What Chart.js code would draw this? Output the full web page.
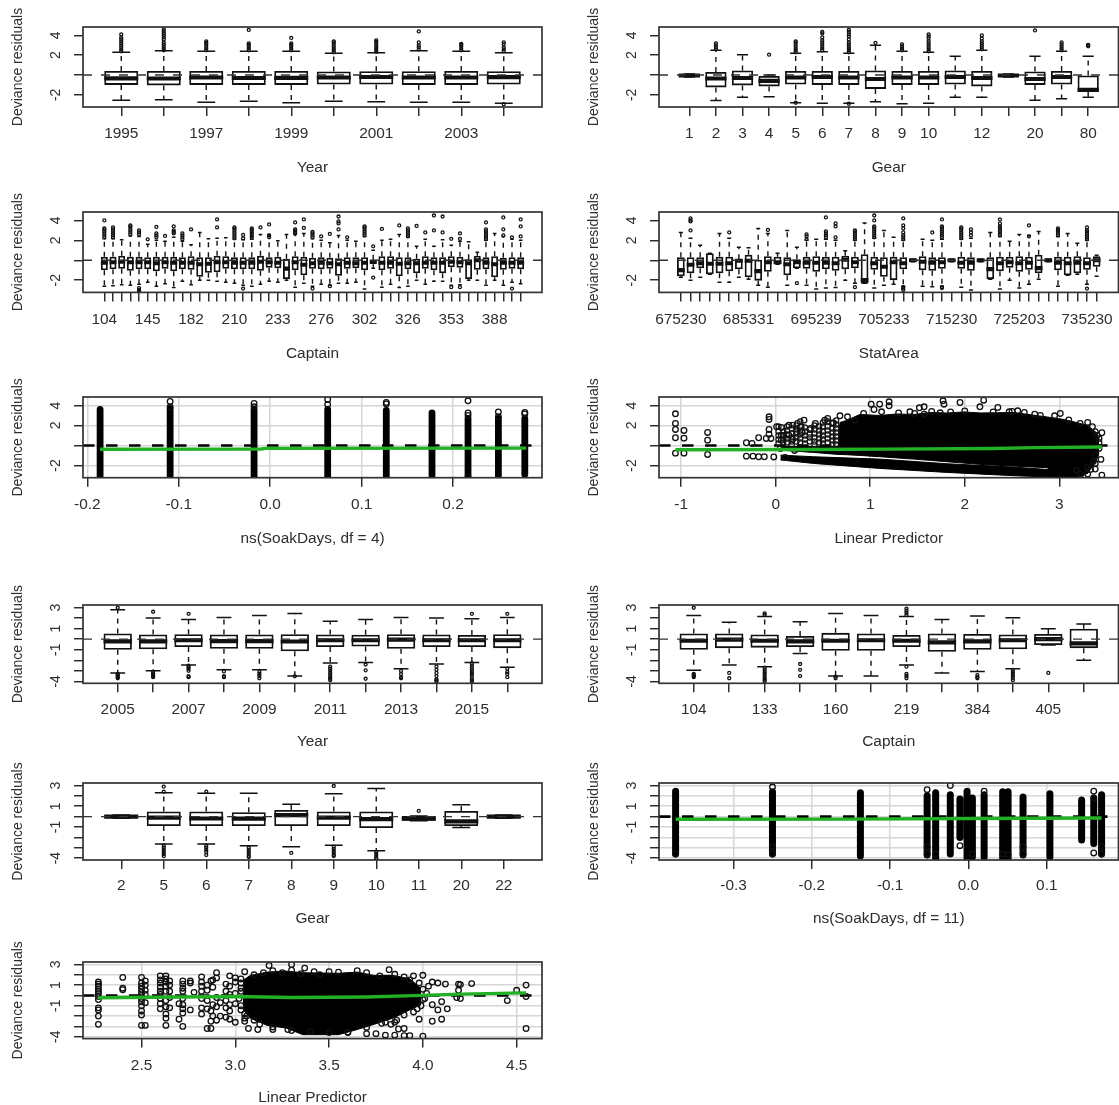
<!DOCTYPE html>
<html>
<head>
<meta charset="utf-8">
<style>
  html, body { margin: 0; padding: 0; background: #fff; }
  body { position: relative; width: 1119px; height: 1105px; overflow: hidden; }
  canvas { position: absolute; filter: blur(.35px); }
</style>
<script src="https://cdn.jsdelivr.net/npm/chart.js@4/dist/chart.umd.min.js"></script>
</head>
<body>
<script>
// Tick labels
const yearLabelsA = ['1995','','1997','','1999','','2001','','2003',''];
const gearLabelsA = ['1','2','3','4','5','6','7','8','9','10','','12','','20','','80'];
const captainLabelsA = ['104','','','','','145','','','','','182','','','','','210','','','','','233','','','','','276','','','','','302','','','','','326','','','','','353','','','','','388','','',''];
const statLabels = ['675230','','','','','','','685331','','','','','','','695239','','','','','','','705233','','','','','','','715230','','','','','','','725203','','','','','','','735230','',''];
const yearLabelsB = ['2005','','2007','','2009','','2011','','2013','','2015',''];
const captainLabelsB = ['104','','133','','160','','219','','384','','405',''];
const gearLabelsB = ['2','5','6','7','8','9','10','11','20','22'];

const yTicksA = [-2, 0, 2, 4];
const yTickLabelsA = ['-2', '', '2', '4'];
const yTicksB = [-4, -3, -2, -1, 0, 1, 2, 3];
const yTickLabelsB = ['-4', '', '', '-1', '', '1', '', '3'];

// Year 1995-2004
const yearAQ1 = [-1, -1.05, -1, -1, -1, -.95, -.95, -1, -1, -.95];
const yearAMed = [-.33, -.35, -.25, -.3, -.28, -.25, -.2, -.25, -.25, -.22];
const yearAQ3 = [.4, .4, .4, .4, .4, .35, .38, .38, .4, .38];
const yearALo = [-2.55, -2.5, -2.75, -2.65, -2.8, -2.65, -2.7, -2.75, -2.75, -2.85];
const yearAHi = [2.3, 2.45, 2.4, 2.4, 2.4, 2.2, 2.25, 2.45, 2.4, 2.25];
const yearAOut = [
  [2.4,2.6,2.8,3,3.2,3.4,3.6,3.8,4.1],
  [2.5,2.7,2.9,3.1,3.3,3.6,3.8,4,4.2,4.4,4.6],
  [2.5,2.7,2.9,3.1,3.25,3.4],
  [2.5,2.7,2.9,3.05,3.2,4.55],
  [2.5,2.7,2.9,3.05,3.2,3.75],
  [2.3,2.5,2.7,2.9,3.1,3.3,3.4],
  [2.35,2.55,2.75,2.95,3.15,3.35,3.5],
  [2.6,2.8,3,3.3,4.4],
  [2.5,2.7,2.9,3.05,3.15],
  [2.4,2.6,2.8,3.1,3.3,-2.95]
];

// Gear, first period
const gearAQ1 = [-.2, -1.25, -1.05, -1.15, -.95, -1, -1, -1.4, -1, -1, -.95, -1.15, -.2, -1, -.95, -1.7];
const gearAMed = [-.05, -.35, -.3, -.6, -.25, -.2, -.25, -.4, -.25, -.25, -.2, -.3, -.05, -.4, -.2, -1.5];
const gearAQ3 = [.1, .3, .45, -.1, .4, .4, .4, .45, .4, .4, .45, .4, .1, .35, .4, -.05];
const gearALo = [-.2, -2.57, -2.25, -2.2, -2.8, -2.85, -2.85, -2.7, -2.9, -2.85, -2.25, -2.25, -.2, -2.55, -2.4, -2.25];
const gearAHi = [.1, 2.5, 2.05, 0, 2.2, 2.35, 2.2, 3, 2.4, 2.3, 1.9, 2.5, .1, 1.9, 2.4, 1.9];
const gearAOut = [
  [], [2.6,2.8,3,3.2], [], [2.05],
  [2.3,2.5,2.7,2.9,3.1,3.3,3.4,-2.8],
  [2.5,2.7,2.9,3.1,3.3,3.5,3.8,4.2,4.35],
  [2.3,2.5,2.7,2.9,3.1,3.3,3.6,3.9,4.1,4.35,4.55,-2.9],
  [3.25],
  [2.5,2.7,2.9,3.1],
  [2.4,2.6,2.8,3,3.2,3.4,3.7,3.9,4.1],
  [],
  [2.6,2.8,3,3.2,3.4,3.7,4],
  [], [4.5],
  [2.5,2.7,2.9,3.1,3.3],
  [2.9,3,3.05]
];

// Captain, first period
const captainAQ1 = [-1,-.9,-.85,-1.05,-.9,-.9,-1.1,-.85,-1.1,-.9,-.95,-1.65,-1.25,-1.2,-.85,-.9,-.9,-.9,-1.05,-.75,-.8,-1.9,-1,-1.5,-.85,-.9,-.85,-1.55,-.85,-.8,-1,-.4,-1,-.85,-1.6,-.9,-1.3,-.85,-1,-1.3,-.7,-.75,-1.9,-.95,-.9,-1.7,-.95,-.85,-.9];
const captainAMed = [-.25,-.2,-.15,-.2,-.2,-.2,-.3,-.2,-.25,-.25,-.25,-.4,-.35,-.2,-.2,-.25,-.25,-.25,-.15,-.2,-.25,-.85,-.2,-.45,-.3,-.25,-.3,-.4,-.25,-.3,-.25,-.15,-.25,-.25,-.35,-.3,-.3,-.25,-.25,-.25,-.15,-.2,-.3,0,-.25,-.4,-.25,-.25,-.25];
const captainAQ3 = [.35,.35,.45,.35,.35,.3,.35,.35,.35,.3,.4,.3,.3,.45,.4,.3,.3,.3,.45,.3,.35,.15,.4,.35,.25,.3,.25,.2,.3,.3,.3,.05,.4,.4,.3,.3,.15,.4,.3,.3,.4,.35,.1,.45,.3,.4,.25,.3,.3];
const captainALo = [-2.6,-2.55,-2.45,-2.5,-2.4,-2.2,-2.6,-2.35,-2.75,-2.1,-2.45,-2,-2,-2.1,-2.2,-2.3,-2.5,-2.6,-2.4,-2.1,-2.2,-2,-2.7,-2.3,-2.6,-2.4,-2.5,-2.3,-2.3,-2.2,-2.9,-.8,-2.7,-2.4,-2.75,-2.6,-2,-2.4,-2.1,-2.1,-2.5,-2.45,-2,-2,-2.5,-2,-2.5,-2.2,-2.35];
const captainAHi = [2.15,2.15,2.05,2.45,2.4,1.6,2,1.9,2.3,1.9,1.55,2.8,2.15,2.2,2.25,2.1,2.05,2.1,2.6,2.6,1.95,2.6,2.6,2.7,2.15,2,1.75,2.5,2,1.9,2.4,1,2,2.1,2.6,2.3,1.4,2.1,1.4,2.05,1.5,1.9,1.85,.8,2,2.7,2.4,2.1,2];
const captainAOut = [
  [2.3,2.5,2.7,2.9,3.1,3.2,4],[2.3,2.5,2.7,2.9,3.1,3.3],[],[2.6,2.8,3,3.2,3.4,3.5],[2.6,2.8,3,-2.8,-3,-3.1,-3.2],
  [2.1],[2.3,2.5,2.7,3.35],[2.45],[2.7,2.85,3,3.4],[2.1,2.3,2.5,2.7],
  [3.1],[],[],[3.3,4.1],[],
  [2.2,2.4,2.6,2.8,3,3.2,3.3],[2.2,2.55,-2.85],[2.25,2.45,2.65,2.85,3.05,3.2],[3.3],[2.3,2.5,3.6],
  [],[],[2.7,2.85,3,3.1,3.8],[3.25,4.1],[2.3,2.5,2.7,2.85,-2.85],
  [2.4],[2.65,-2.6],[3.1,3.7,3.9,4.4],[2.3],[],
  [2.5,2.7,2.9,3.1,3.3,3.4],[1.4,-1.75],[3.15],[],[3.5],
  [2.4,2.6,2.8,3,3.2],[3.45],[2.8],[3,4.5],[2.8,4.4],
  [2.15,-2.7],[2.15,2.7,-2.7],[],[],[2.1,2.3,2.5,2.7,2.9,3.1,3.8],
  [],[2.5,3.1,4.3],[2.3,-2.85],[2.4,3.4,4.1]
];

// StatArea
const statQ1 = [-1.6,-1.3,-.8,-1.4,-1.3,-1.1,-.9,-1.7,-2.05,-1.15,-.4,-1.5,-.8,-.85,-1.15,-.9,-1.05,-.9,-.8,-2.35,-.95,-1.65,-2,-.9,-.15,-1,-1.05,-.85,-.15,-.85,-1.05,-.15,-1.9,-1.1,-.75,-1.15,-.95,-1.3,-.15,-1,-1.5,-1.3,-.95,-.65];
const statMed = [-1,-.45,-.3,-.35,-.35,-.3,-.05,-.05,-1.1,-.2,-.2,-.4,-.2,-.25,-.25,-.25,-.3,.05,-.2,-2,-.3,-.65,-.2,-.3,0,-.15,-.25,-.2,0,-.25,-.25,0,-.9,-.3,-.2,-.3,-.25,-.8,0,-.25,-.3,-.25,-.3,0];
const statQ3 = [.3,.3,.3,.7,.35,.35,.1,.55,.05,.4,.35,.3,.1,.35,.4,.35,.35,.45,.35,.6,.35,.3,.35,.3,.1,.4,.3,.3,.1,.35,.3,.1,.3,.35,.35,.4,.35,.55,.1,.35,.35,.4,.3,.4];
const statLo = [-1.7,-2,-1.7,-1.4,-2.2,-2.2,-1.7,-1.9,-2.5,-2.7,-.4,-2.5,-.8,-2.5,-2.9,-2.8,-2.75,-2,-2.3,-2.3,-2.8,-2.5,-2.4,-2.6,-.15,-2.6,-2.65,-2.6,-.15,-2.7,-3,-.15,-1.9,-2.9,-2,-2.8,-2.4,-1.9,-.15,-2.6,-1.5,-1.4,-2.4,-1.6];
const statHi = [2.8,2.2,1.5,.7,2.7,2.2,1.3,1.25,3.2,2.7,.7,3,1.3,2,2.1,2.1,2,.95,2,3.75,2.2,3,2.3,2,.1,2.1,2,2.1,.1,2.1,2.2,.1,2.8,2.4,1.9,2.6,2.5,2.9,.1,2.4,2.7,1.7,2,.5];
const statOut = [
  [],[3,3.9,4,4.2],[],[],[],[2.8],[],[],[],[3.05],
  [],[],[-2.3],[2.1,2.4,2.6],[],[2.3,2.5,2.7,2.9,4.3],[2.3,3.4,3.7],[],[2.1,2.3,2.5,2.7,2.9,3,-2.7],[],
  [2.3,2.5,2.7,2.9,3.1,3.3,3.4,4,4.5],[],[],[2.1,2.3,2.5,2.8,3.2,3.5,4.2,-2.7,-2.85,-3],[],[],[2.8],[2.3,2.5,2.7,2.9,3.1,3.3,3.4,4.1,-2.7,-2.8],[],[2.2,2.4,2.6,2.8,3,3.2,3.3],
  [2.5,2.8,3.1],[],[],[2.5,2.7,2.9,3.1,3.3,3.4,3.7,4.1],[],[],[2.4,3.5],[],[],[2.5,2.7,2.9,3.05,3.2],
  [],[],[2.1,2.3,2.5,2.7,2.9,3,3.3,-2.85],[]
];

// ns(SoakDays, df = 4)
const soak4X = [-.186, -.1094, -.0176, .0629, .127, .177, .2164, .2496, .2785];
const soak4Lo = [-3.07, -3.07, -3.2, -3.2, -3.2, -3, -3.07, -3, -2.9];
const soak4Hi = [3.6, 3.7, 3.6, 3.6, 3.5, 3.27, 2.7, 2.7, 2.7];
const soak4PtX = [-.1094,-.1094,-.0176,-.0176,.0629,.0629,.127,.127,.2164,.2164,.2164,.2164,.2496,.2496,.2785,.2785];
const soak4PtY = [4.4,3.85,4.2,3.87,4.6,4.1,4.3,4.15,4.47,3.25,3,-3.15,3.35,2.87,3.3,3.15];
const soak4GreenX = [-.186, -.01, -.005, .28];
const soak4GreenY = [-.38, -.36, -.29, -.27];

// Linear predictor, first period
const predAMassX = [.05,.4,.66,.68,.75,.89,1.1,1.28,1.46,1.64,1.81,1.99,2.17,2.52,2.87,3.05,3.16,3.3,3.39,3.42];
const predAMassTop = [-.1,-.1,-.1,2.3,2.5,3.1,3,3.15,3.1,3.3,3.25,3.35,3.25,3.3,2.85,2.6,2.35,2,1.3,.7];
const predAMassBottom = [-.47,-.7,-.9,-.9,-.93,-1,-1.13,-1.25,-1.37,-1.5,-1.63,-1.77,-1.9,-2.07,-2.23,-3.2,-3.25,-2.8,-1.5,-.8];
const predABandX = [.05, .4, 1.1, 1.81, 2.52, 3.16];
const predABandTop = [-.97, -1.13, -1.37, -1.83, -2.17, -2.6];
const predABandBottom = [-1.45, -1.8, -2.3, -2.7, -3.03, -3.25];
const predAPtX = [-1.06,-1.06,-1.06,-.97,-1.06,-.97,-1.06,-.97,-.72,-.72,-.72,-.31,-.25,-.18,-.31,-.24,-.18,-.12,-.07,-.07,-.07,-.07,-.1,-.05,.01,.06,.14,.18,.23,.3,.27,.06,.14,.22,.06,.18,.28,.37,.42,.52,.55,.61,.68,.76,.84,.93,1.01,1.04,1.1,1.12,1.2,1.2,1.42,1.52,1.57,1.57,1.74,1.77,1.78,1.95,2.16,2.2,2.35,2.47,2.56,2.63,2.74,2.95,3.01,3.3,3.35,3.38,3.45,3.42,3.44,3.38,3.38,3.3,3.23,3.3,3.45,3.18,.05,.2,-.02,.1,1.3,1.47,1.65,1.85,2,2.3,2.5,2.8,3.1,3.22,3.4,3.42,3.42,3.38,3.36,3.33];
const predAPtY = [3.17,2.2,1.6,1.5,.77,.73,-.77,-.77,1.3,.53,-.9,.27,.2,.77,-1.07,-1.07,-1.13,-1.13,2.87,2.6,1.6,1.13,.7,.7,1.87,1.8,2.03,2.03,2.2,2.53,1.87,1.03,1.03,1.37,.53,.6,1.3,1.7,2.2,2.53,2.7,2.27,2.97,2.87,2.53,3.2,4.13,3.6,4.13,3.37,4.37,3.97,3.37,3.77,3.87,3.13,3.27,4.47,4.13,4.3,3.87,4.53,3.8,3.37,3.47,3.3,3.13,2.97,3.2,2.3,1.87,1.37,1.27,.7,-1.4,-1.8,-2.37,-2.2,-2.87,-2.87,-2.97,-2.47,-.3,-.5,-1.15,-1.2,3.25,3.2,3.4,3.35,3.45,3.35,3.4,3,2.55,2.2,1,.3,-.3,-1,-1.6,-2.4];
const predAColX = [.03,.08,.12,.17,.22,.26,.31,.36,.41,.46,.5,.55,.6,.64];
const predAColY = [
  [1.9,1.4,1,.6,.2],
  [1.4,1,.7,.3],
  [1.9,1.5,1.1,.7,.3],
  [1.7,1.2,.8,.4,.1],
  [2,1.6,1.2,.8,.4],
  [2.4,1.9,1.5,1.1,.7,.3],
  [1.8,1.4,1,.6,.2],
  [1.6,1.1,.8,.4],
  [2,1.6,1.2,.8,.4,.1],
  [1.9,1.5,1.1,.7,.3],
  [2.3,1.9,1.4,1,.6,.2],
  [2.4,1.9,1.5,1.1,.7,.3],
  [2.2,1.7,1.3,.9,.5,.1],
  [2.5,2.1,1.7,1.3,.9,.5,.1]
];
const predAGreenX = [-1.06, .3, 1.15, 2.3, 2.75, 3.45];
const predAGreenY = [-.43, -.4, -.37, -.3, -.22, -.15];

// Year 2005-2016
const yearBQ1 = [-1, -.95, -.75, -.9, -.9, -1.15, -.75, -.7, -.9, -.75, -.75, -.85];
const yearBMed = [-.2, -.2, -.1, -.18, -.18, -.22, -.1, -.1, -.05, -.1, -.1, -.1];
const yearBQ3 = [.55, .45, .47, .45, .45, .48, .45, .43, .47, .45, .4, .47];
const yearBLo = [-3.2, -3, -2.45, -2.9, -2.9, -3.5, -2.25, -2.2, -2.8, -2.35, -2.2, -2.65];
const yearBHi = [2.8, 2, 1.87, 2.05, 2.25, 2.43, 1.7, 1.87, 2.05, 2, 1.93, 2.05];
const yearBOut = [
  [-3.3,-3.4,-3.5,-3.6,-3.7,2.98],
  [-3.1,-3.25,-3.4,-3.5,-3.6,2.6],
  [-2.5,-2.65,-2.8,-3,-3.5,-3.6,2.4],
  [-3.05,-3.5,-3.6],
  [-3.1,-3.3,-3.5,-3.7],
  [-3.52],
  [-2.6,-2.8,-3,-3.2,-3.4,-3.6,-3.75,-3.9],
  [-2.4,-2.95,-3.75],
  [-3,-3.3,-3.6,-3.7],
  [-2.6,-2.9,-3.2,-3.5,-3.8,-3.9,-4],
  [-2.3,-2.5,-2.7,-2.9,-3.1,-3.3,-3.5,-3.75,-3.9,-4,2.4],
  [-2.8,-3.1,-3.3,-3.6,2.4]
];

// Captain, second period
const captainBQ1 = [-1, -.85, -.8, -.75, -1.1, -1.1, -.75, -1.2, -1, -.95, -.55, -.85];
const captainBMed = [-.15, -.05, -.15, -.2, -.15, -.1, -.15, -.3, -.2, -.1, 0, -.4];
const captainBQ3 = [.55, .55, .45, .3, .6, .55, .4, .55, .5, .45, .5, 1];
const captainBLo = [-2.95, -2.45, -2.6, -1.35, -3.5, -3.5, -2.45, -3.2, -3.05, -2.8, -.55, -2];
const captainBHi = [2.25, 1.6, 2.15, 1.65, 2.43, 2.25, 2.15, 1.87, 2.2, 2.03, 1, 1.43];
const captainBOut = [
  [-3.3,-3.4,-3.5,-3.6,2.98],
  [-3.2,-3.7],
  [-2.7,-2.9,-3.1,-3.3,-3.5,-3.7,-3.85,-4,2.3,2.45],
  [-2.35,-2.9,-3.5],
  [-3.55,-3.7],
  [],
  [-2.6,-3.3,-3.5,-3.7,2.3,2.5,2.7,2.9],
  [],
  [-3.4,-3.6,-3.7],
  [-2.9,-3.1,-3.3,-3.5,-3.7,-3.9],
  [-3.2],
  []
];

// Gear, second period
const gearBQ1 = [-.15, -.9, -.9, -.9, -.9, -.9, -1.1, -.4, -.9, -.15];
const gearBMed = [0, -.1, -.18, -.2, .15, -.1, -.25, -.2, -.45, 0];
const gearBQ3 = [.15, .5, .5, .42, .65, .5, .5, .05, .55, .15];
const gearBLo = [-.15, -2.65, -2.65, -2.8, -2.9, -2.75, -3.3, -.4, -1.05, -.15];
const gearBHi = [.15, 2.3, 2.25, 2.25, 1.2, 2.2, 2.7, .05, 1.15, .15];
const gearBOut = [
  [],
  [-2.8,-3,-3.2,-3.4,-3.6,-3.8,2.4,2.9],
  [-2.8,-3,-3.2,-3.4,-3.7,2.4],
  [-3,-3.2,-3.4,-3.6,-3.8,-3.9],
  [-3.5],
  [-2.9,-3.1,-3.3,-3.5,-3.7,-3.8,2.95],
  [-3.4,-3.6,-3.8,-4,-4.1],
  [.55],
  [],
  []
];

// ns(SoakDays, df = 11)
const soak11X = [-.374,-.2503,-.138,-.0528,-.0419,-.0232,-.0109,-.0018,.005,.02,.0437,.0506,.0697,.104,.1445,.16,.17];
const soak11Lo = [-3.6,-3.6,-3.8,-3.7,-4,-3.6,-2,-4,-3.9,-3.9,-4,-4,-3.7,-3.9,-2.25,-2.6,-3.6];
const soak11Hi = [2.45,2.4,2.3,2,2.3,2.1,1.7,2.45,1.8,2.1,2.4,2.4,1.9,2.2,1.6,1.75,2.1];
const soak11PtX = [-.2503,-.0528,-.0528,-.0528,-.0419,-.0232,-.0109,.005,.02,.0437,.0506,.0697,.0697,.16,.16,.16,.17,.17,-.374,-.2503,-.2503];
const soak11PtY = [2.85,2.6,-2.9,-3.6,-3.6,3,-2.8,-3.6,2.45,-3.6,-3.7,-2.9,-3.6,2.45,-3.5,1.8,-2.9,-3.6,-3.6,-2.9,-3.6];
const soak11GreenX = [-.374, -.15, 0, .17];
const soak11GreenY = [-.25, -.24, -.18, -.13];

// Linear predictor, second period
const predBMassX = [3.04,3.08,3.17,3.27,3.36,3.46,3.55,3.65,3.74,3.84,3.93,3.99];
const predBMassTop = [1.46,1.94,2.26,2.36,2.2,2.17,2.15,2.26,1.94,1.94,1.62,.67];
const predBMassBottom = [-1.3,-2.2,-2.9,-3.15,-3.8,-3.8,-3.8,-3.3,-2.8,-2.2,-1.4,-.9];
const predBColX = [2.27,2.4,2.5,2.52,2.6,2.63,2.65,2.72,2.76,2.7,2.78,2.82,2.85,2.87,2.88,2.9,2.92,2.95,2.97,3,3.03,3.05];
const predBColY = [
  [1.3,1.1,.9,.6,.4,.2,-.1,-.4,-1.2,-1.4,-2,-2.8],
  [1.75,.7,.55],
  [1.75,1.2,.9,.6,.3,0,-.3,-.6,-1,-1.5,-1.9,-2.9],
  [1.4,1,.5,.1,-.7,-2.9],
  [1.9,1.5,1.2,.8,.4,.1,-.3,-.8,-1.3],
  [1.9,1.6,1.3,.9,.4,-.5,-1.1,-1.8,-2.2,-2.9],
  [1.4,1,.4,-.2,-1.2],
  [1.4,1.1,.7,.4,-.3,-.9,-1.3,-1.7,-3],
  [1.4,1.2,-1.4],
  [-2.3,-.8],
  [.3],
  [1.8,1.3,.9,.4,-.3,-1.2,-1.8],
  [-3.2,1,.5,-.5,-1.3],
  [1.4,-1.5,-2.5,-3.2],
  [1.5,.8,-.9,-2],
  [2.2,1.7,-.2,-1.1,-2.4],
  [-2,-.7],
  [1.1,.4,-.5,-1.2,-2.1],
  [1.9,.9,.1,-.9,-1.5,-2.3],
  [1.7,1.3,.2,-.8,-2.6],
  [1.6,.7,-1.4],
  [2.3,-2.2,-2.5]
];
const predBPtX = [3.18,3.3,3.37,3.15,3.25,3.35,3.45,3.5,3.65,3.82,3.77,3.9,3.95,4,4.05,4.08,4.12,4.19,4.2,4.26,4.19,4.2,4.18,4.13,4.1,4.05,3.98,4.08,4.05,4,4.1,4.45,4.5,4.55,4.55,4.55,3.07,3.12,3.2,3.3,3.4,3.5,3.6,3.7,3.75,3.8,3.85,3.9,3.93,4,3.9,3.87,3.83,3.85,3.03,3.03,3.02,3.03,3.05,3.06,3.1,3.13,4,4.02,4.01,3.99,3.97,3.95,3.9,3.86,3.8,4.03,3.98,3.93,3.1,3.2,3.3,3.42,3.55,3.7,3.85,3.2,3.28,3.6,3.7,3.78];
const predBPtY = [2.9,3,2.65,2.2,2.2,2.1,2,2.3,2.4,2.5,1.9,1.8,1.9,1.95,1.3,1.2,1.1,1.1,1.05,1.15,.5,-.3,-.2,-1.3,-2.3,-2.5,-2.3,-1.4,-.9,-.4,-.6,-.5,.5,1,-.1,-3.2,-3.2,-3.3,-3.3,-3.4,-3.5,-3.6,-3.6,-3.7,-3.7,-3.85,-3.85,-3.9,-3.9,-3.95,-3.2,-3.25,-2.8,-2.6,1.2,.4,-.3,-1,-1.8,-2,-2.4,-2.8,.6,.2,-.3,-1,-1.3,-1.6,-1.9,-2.4,-2.6,.9,1.2,1.5,2,2.4,2.45,2.3,2.25,2.2,2.05,-3.05,-3.3,-3.55,-3.1,-2.7];
const predBGreenX = [2.27, 3, 3.3, 3.7, 3.95, 4.2, 4.55];
const predBGreenY = [-.22, -.1, -.2, -.15, -.02, .13, .25];

const FONT = '"Liberation Sans", Arial, sans-serif';
const TEXT = '#2e2e2e';
const INK = '#111';
const GREEN = '#22b024';

const framePlugin = {
  id: 'frame',
  afterDatasetsDraw(chart) {
    const a = chart.chartArea, ctx = chart.ctx;
    ctx.save();
    ctx.strokeStyle = '#333';
    ctx.lineWidth = 1.7;
    ctx.strokeRect(a.left, a.top, a.right - a.left, a.bottom - a.top);
    ctx.restore();
  }
};

function lineSet(data, color, width, dash, order, cap) {
  return { type: 'scatter', data, showLine: true, borderColor: color, borderWidth: width,
    borderDash: dash || [], borderCapStyle: cap || 'butt', pointRadius: 0, spanGaps: false,
    tension: 0, fill: false, order };
}

function pointSet(data, radius, width, order) {
  return { type: 'scatter', data, showLine: false, pointRadius: radius, pointBorderWidth: width,
    pointBorderColor: INK, pointBackgroundColor: 'transparent', order };
}

function boxSets(q1, med, q3, lo, hi, out, xMin, xMax) {
  const whiskers = [], caps = [], medians = [], outliers = [];
  q1.forEach((v, k) => {
    const i = k + 1;
    whiskers.push({x: i, y: q3[k]}, {x: i, y: hi[k]}, {x: i, y: null},
                  {x: i, y: v}, {x: i, y: lo[k]}, {x: i, y: null});
    caps.push({x: i - .21, y: hi[k]}, {x: i + .21, y: hi[k]}, {x: i, y: null},
              {x: i - .21, y: lo[k]}, {x: i + .21, y: lo[k]}, {x: i, y: null});
    medians.push({x: i - .4, y: med[k]}, {x: i + .4, y: med[k]}, {x: i, y: null});
    out[k].forEach(y => outliers.push({x: i, y}));
  });
  return [
    { type: 'bar', data: q1.map((v, k) => ({x: k + 1, y: [v, q3[k]]})), backgroundColor: 'transparent',
      borderColor: INK, borderWidth: 1.8, borderSkipped: false, barPercentage: .8, categoryPercentage: 1, order: 5 },
    lineSet(whiskers, INK, 1.4, [5, 5], 4),
    lineSet(caps, INK, 1.5, [], 3),
    lineSet(medians, INK, 4.2, [], 2),
    pointSet(outliers, 1.5, 1.3, 2),
    lineSet([{x: xMin, y: 0}, {x: xMax, y: 0}], '#333', 1.3, [9, 9], 1)
  ];
}

function zip(xs, ys) {
  return xs.map((x, k) => ({x, y: ys[k]}));
}

function nested(xs, ys) {
  const pts = [];
  xs.forEach((x, k) => ys[k].forEach(y => pts.push({x, y})));
  return pts;
}

function columnSets(xs, lo, hi, ptX, ptY, greenX, greenY, xMin, xMax, width) {
  const bars = [];
  xs.forEach((x, k) => bars.push({x, y: lo[k]}, {x, y: hi[k]}, {x, y: null}));
  return [
    lineSet(bars, '#000', width, [], 4, 'round'),
    pointSet(zip(ptX, ptY), 2.8, 1.3, 3),
    lineSet([{x: xMin, y: 0}, {x: xMax, y: 0}], '#000', 2.6, [11.5, 11.5], 2),
    lineSet(zip(greenX, greenY), GREEN, 3.4, [], 0)
  ];
}

function fillSet(xs, top, bottom, order) {
  const upper = lineSet(zip(xs, top), '#000', 1, [], order);
  upper.fill = '+1';
  upper.backgroundColor = '#000';
  return [upper, lineSet(zip(xs, bottom), '#000', 1, [], order)];
}

// One panel: column, plot top/bottom in page pixels, label and title centres
function addPanel(p) {
  const left = p.col ? 560 : 0;
  const width = p.col ? 570 : 560;
  const plotLeft = p.col ? 99 : 83;
  const padRight = p.col ? 11.5 : 18;
  const padTop = 32;
  const canvasTop = p.top - padTop;
  const canvasBottom = p.titleY + 10;
  const canvas = document.createElement('canvas');
  canvas.width = width;
  canvas.height = canvasBottom - canvasTop;
  canvas.style.left = left + 'px';
  canvas.style.top = canvasTop + 'px';
  document.body.appendChild(canvas);

  const fontY = { family: FONT, size: 14 };
  const fontX = { family: FONT, size: 15.4 };
  const tickLen = 9;
  new Chart(canvas, {
    type: p.bars ? 'bar' : 'scatter',
    data: { datasets: p.datasets },
    plugins: [framePlugin],
    options: {
      responsive: false,
      animation: false,
      devicePixelRatio: 1,
      layout: { padding: { top: padTop, right: padRight, left: 0, bottom: 0 } },
      plugins: { legend: { display: false }, tooltip: { enabled: false } },
      scales: {
        x: {
          type: 'linear', min: p.xMin, max: p.xMax, offset: false,
          afterBuildTicks: s => { s.ticks = p.xTicks.map(v => ({value: v})); },
          afterFit: s => { s.height = canvasBottom - p.bottom; s.paddingLeft = 0; s.paddingRight = 0; },
          grid: { display: true, offset: false, drawOnChartArea: !p.bars, color: '#d6d6d6', lineWidth: 1.5,
            tickColor: '#222', tickWidth: 1.4, tickLength: tickLen },
          border: { display: false },
          ticks: { autoSkip: false, minRotation: 0, maxRotation: 0, color: TEXT, font: fontX,
            padding: p.labelY - p.bottom - tickLen - 8, callback: (v, i) => p.xLabels[i] },
          title: { display: true, text: p.title, color: TEXT, font: fontX, padding: 0 }
        },
        y: {
          type: 'linear', min: p.yMin, max: p.yMax,
          afterBuildTicks: s => { s.ticks = p.yTicks.map(v => ({value: v})); },
          afterFit: s => { s.width = plotLeft; s.paddingTop = 0; s.paddingBottom = 0; },
          grid: { display: true, drawOnChartArea: !p.bars, color: '#d6d6d6', lineWidth: 1.5,
            tickColor: '#222', tickWidth: 1.4, tickLength: tickLen },
          border: { display: false },
          ticks: { autoSkip: false, minRotation: 90, maxRotation: 90, crossAlign: 'center', color: TEXT, font: fontY,
            padding: 12, callback: (v, i) => p.yLabels[i] },
          title: { display: true, text: 'Deviance residuals', color: TEXT, font: fontY,
            padding: { top: p.col ? 26 : 10, bottom: 0 } }
        }
      }
    }
  });
}

function addBoxPanel(p, q1, med, q3, lo, hi, out) {
  const n = q1.length;
  const xMin = .5 - .04 * n, xMax = n + .5 + .04 * n;
  addPanel(Object.assign(p, {
    bars: true, xMin, xMax, xTicks: q1.map((v, k) => k + 1),
    datasets: boxSets(q1, med, q3, lo, hi, out, xMin, xMax)
  }));
}

const rangeA = { yTicks: yTicksA, yLabels: yTickLabelsA, yMin: -3.23, yMax: 4.85 };
const rangeB = { yTicks: yTicksB, yLabels: yTickLabelsB, yMin: -4.18, yMax: 3.24 };

addBoxPanel(Object.assign({ col: 0, top: 27, bottom: 107.7, labelY: 133.5, titleY: 167.7, title: 'Year', xLabels: yearLabelsA }, rangeA),
  yearAQ1, yearAMed, yearAQ3, yearALo, yearAHi, yearAOut);
addBoxPanel(Object.assign({ col: 1, top: 27, bottom: 107.7, labelY: 133.5, titleY: 167.7, title: 'Gear', xLabels: gearLabelsA }, rangeA),
  gearAQ1, gearAMed, gearAQ3, gearALo, gearAHi, gearAOut);
addBoxPanel(Object.assign({ col: 0, top: 212, bottom: 292.7, labelY: 319.3, titleY: 353.3, title: 'Captain', xLabels: captainLabelsA }, rangeA),
  captainAQ1, captainAMed, captainAQ3, captainALo, captainAHi, captainAOut);
addBoxPanel(Object.assign({ col: 1, top: 212, bottom: 292.7, labelY: 319.3, titleY: 353.3, title: 'StatArea', xLabels: statLabels }, rangeA),
  statQ1, statMed, statQ3, statLo, statHi, statOut);

addPanel(Object.assign({ col: 0, top: 397, bottom: 477.7, labelY: 504, titleY: 538, title: 'ns(SoakDays, df = 4)',
  xMin: -.2047, xMax: .2973, xTicks: [-.2, -.1, 0, .1, .2], xLabels: ['-0.2', '-0.1', '0.0', '0.1', '0.2'],
  datasets: columnSets(soak4X, soak4Lo, soak4Hi, soak4PtX, soak4PtY, soak4GreenX, soak4GreenY, -.2047, .2973, 6.8) }, rangeA));

addPanel(Object.assign({ col: 1, top: 397, bottom: 477.7, labelY: 504, titleY: 538, title: 'Linear Predictor',
  xMin: -1.234, xMax: 3.626, xTicks: [-1, 0, 1, 2, 3], xLabels: ['-1', '0', '1', '2', '3'],
  datasets: [
    ...fillSet(predAMassX, predAMassTop, predAMassBottom, 5),
    ...fillSet(predABandX, predABandTop, predABandBottom, 5),
    pointSet(nested(predAColX, predAColY), 2.6, 1.2, 3),
    pointSet(zip(predAPtX, predAPtY), 2.8, 1.3, 3),
    lineSet([{x: -1.234, y: 0}, {x: 3.626, y: 0}], '#000', 2.6, [11.5, 11.5], 4),
    lineSet(zip(predAGreenX, predAGreenY), GREEN, 3.4, [], 0)
  ] }, rangeA));

addBoxPanel(Object.assign({ col: 0, top: 605, bottom: 683.3, labelY: 708.3, titleY: 741, title: 'Year', xLabels: yearLabelsB }, rangeB),
  yearBQ1, yearBMed, yearBQ3, yearBLo, yearBHi, yearBOut);
addBoxPanel(Object.assign({ col: 1, top: 605, bottom: 683.3, labelY: 708.3, titleY: 741, title: 'Captain', xLabels: captainLabelsB }, rangeB),
  captainBQ1, captainBMed, captainBQ3, captainBLo, captainBHi, captainBOut);
addBoxPanel(Object.assign({ col: 0, top: 783.3, bottom: 861, labelY: 886, titleY: 919, title: 'Gear', xLabels: gearLabelsB }, rangeB),
  gearBQ1, gearBMed, gearBQ3, gearBLo, gearBHi, gearBOut);

addPanel(Object.assign({ col: 1, top: 783.3, bottom: 861, labelY: 886, titleY: 919, title: 'ns(SoakDays, df = 11)',
  xMin: -.3952, xMax: .1916, xTicks: [-.3, -.2, -.1, 0, .1], xLabels: ['-0.3', '-0.2', '-0.1', '0.0', '0.1'],
  datasets: columnSets(soak11X, soak11Lo, soak11Hi, soak11PtX, soak11PtY, soak11GreenX, soak11GreenY, -.3952, .1916, 7) }, rangeB));

addPanel(Object.assign({ col: 0, top: 961.7, bottom: 1038.3, labelY: 1064, titleY: 1096.7, title: 'Linear Predictor',
  xMin: 2.188, xMax: 4.635, xTicks: [2.5, 3, 3.5, 4, 4.5], xLabels: ['2.5', '3.0', '3.5', '4.0', '4.5'],
  datasets: [
    ...fillSet(predBMassX, predBMassTop, predBMassBottom, 5),
    pointSet(nested(predBColX, predBColY), 2.8, 1.3, 3),
    pointSet(zip(predBPtX, predBPtY), 2.8, 1.3, 3),
    lineSet([{x: 2.188, y: 0}, {x: 4.635, y: 0}], '#000', 2.6, [11.5, 11.5], 4),
    lineSet(zip(predBGreenX, predBGreenY), GREEN, 3.4, [], 0)
  ] }, rangeB));
</script>
</body>
</html>
